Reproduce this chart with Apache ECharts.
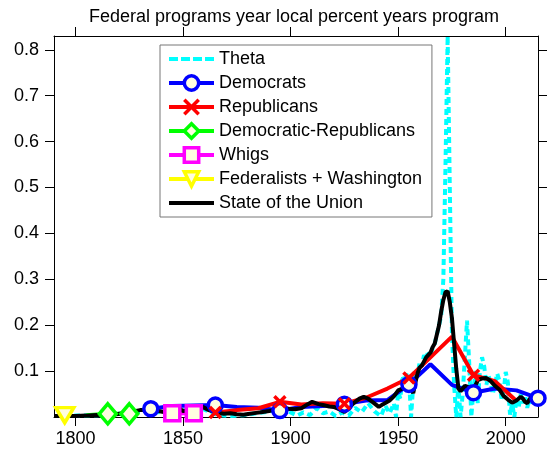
<!DOCTYPE html>
<html>
<head>
<meta charset="utf-8">
<script src="https://cdn.jsdelivr.net/npm/echarts@6/dist/echarts.min.js"></script>
<style>
  html, body { margin: 0; padding: 0; background: #fff; }
  #chart { width: 547px; height: 455px; }
</style>
</head>
<body>
<div id="chart"></div>
<script>
// ---- data ----
var xTicks = [1800, 1850, 1900, 1950, 2000];
var yTicks = [0.1, 0.2, 0.3, 0.4, 0.5, 0.6, 0.7, 0.8];

var thetaYears = [1790, 1800, 1810, 1820, 1830, 1840, 1847, 1852, 1858, 1862, 1866, 1872, 1878, 1884, 1890, 1896,
    1900, 1903, 1906, 1909, 1912, 1915, 1918, 1921, 1924, 1927, 1930, 1933, 1936, 1939, 1942, 1944, 1946, 1948,
    1949, 1950, 1951, 1952, 1953, 1954, 1955, 1956, 1957, 1958, 1959, 1960, 1961, 1962, 1963, 1964, 1965, 1966,
    1967, 1968, 1969, 1970, 1971, 1972, 1973, 1974, 1975, 1976, 1977, 1978, 1979, 1980, 1981, 1982, 1983, 1984,
    1985, 1986, 1987, 1988, 1989, 1990, 1991, 1992, 1993, 1994, 1995, 1996, 1997, 1998, 1999, 2000, 2001, 2002,
    2003, 2004, 2005, 2006, 2007, 2008, 2009, 2010, 2011, 2012, 2013, 2014];
var thetaValues = [0.002, 0.003, 0.004, 0.007, 0.013, 0.01, 0.02, 0.012, 0.02, 0.012, 0.004, 0.002, 0.004, 0.008, 0.012, 0.018,
    0.01, 0.003, 0.01, 0.004, 0.02, 0.008, 0.012, 0.002, 0.01, 0.003, 0.02, 0.01, 0.03, 0.012, 0.002, 0.025, 0.008, 0.03,
    0.0, 0.055, 0.04, 0.09, 0.075, 0.098, 0.085, 0.0, 0.07, 0.1, 0.09, 0.12, 0.11, 0.135, 0.125, 0.145, 0.13, 0.15,
    0.16, 0.18, 0.2, 0.22, 0.3, 0.55, 0.83, 0.5, 0.18, 0.07, 0.0, 0.07, 0.0, 0.05, 0.13, 0.21, 0.12, 0.0,
    0.06, 0.1, 0.03, 0.1, 0.13, 0.11, 0.07, 0.09, 0.075, 0.05, 0.07, 0.095, 0.08, 0.04, 0.055, 0.098, 0.075, 0.005,
    0.03, 0.0, 0.04, 0.02, 0.05, 0.03, 0.045, 0.02, 0.04, 0.028, 0.05, 0.035];

var demYears = [1835, 1845, 1855, 1865, 1875, 1885, 1895, 1905, 1915, 1925, 1935, 1945, 1955, 1965, 1975, 1985, 1995, 2005, 2015];
var demValues = [0.018, 0.024, 0.025, 0.026, 0.022, 0.02, 0.014, 0.022, 0.024, 0.028, 0.036, 0.037, 0.071, 0.115, 0.07, 0.053, 0.062, 0.058, 0.041];
var demMarkers = [1835, 1865, 1895, 1925, 1955, 1985, 2015];

var repYears = [1865, 1875, 1885, 1895, 1905, 1915, 1925, 1935, 1945, 1955, 1965, 1975, 1985, 1995, 2005];
var repValues = [0.01, 0.015, 0.019, 0.033, 0.027, 0.03, 0.029, 0.042, 0.062, 0.085, 0.13, 0.175, 0.091, 0.078, 0.035];
var repMarkers = [1865, 1895, 1925, 1955, 1985];

var drYears = [1805, 1815, 1825];
var drValues = [0.004, 0.007, 0.007];
var drMarkers = [1815, 1825];

var whigYears = [1845, 1855];
var whigValues = [0.008, 0.008];

var fedYears = [1795];
var fedValues = [0.004];

var sotuYears = [1790, 1795, 1800, 1805, 1808, 1812, 1815, 1819, 1823, 1827, 1830, 1834, 1837, 1841, 1844, 1847, 1850,
    1852, 1855, 1857, 1859, 1862, 1865, 1869, 1872, 1875, 1878, 1881, 1884, 1887, 1890, 1893, 1896, 1899, 1902, 1905,
    1908, 1910, 1913, 1915, 1918, 1920, 1922, 1925, 1927, 1929, 1932, 1934, 1936, 1938, 1941, 1943, 1946, 1948, 1950,
    1952, 1954, 1956, 1957, 1958, 1959, 1960, 1961, 1963, 1965, 1966, 1967, 1968, 1969, 1970, 1971, 1972, 1973, 1974,
    1975, 1976, 1977, 1978, 1979, 1980, 1981, 1982, 1983, 1984, 1985, 1986, 1987, 1989, 1991, 1993, 1995, 1997, 1999,
    2001, 2003, 2005, 2007, 2008, 2009, 2010, 2011, 2012, 2013, 2014];
var sotuValues = [0.002, 0.002, 0.002, 0.003, 0.004, 0.005, 0.006, 0.006, 0.009, 0.012, 0.015, 0.015, 0.014, 0.011, 0.014, 0.022, 0.013,
    0.014, 0.017, 0.015, 0.022, 0.015, 0.01, 0.007, 0.008, 0.006, 0.005, 0.007, 0.009, 0.011, 0.013, 0.016, 0.021, 0.018, 0.017, 0.019,
    0.028, 0.033, 0.028, 0.026, 0.023, 0.022, 0.018, 0.011, 0.02, 0.029, 0.04, 0.044, 0.04, 0.033, 0.022, 0.028, 0.036, 0.045, 0.058,
    0.062, 0.068, 0.062, 0.052, 0.075, 0.095, 0.108, 0.112, 0.13, 0.14, 0.152, 0.16, 0.18, 0.2, 0.23, 0.255, 0.272, 0.274, 0.25,
    0.215, 0.16, 0.105, 0.062, 0.056, 0.062, 0.068, 0.066, 0.064, 0.066, 0.048, 0.07, 0.08, 0.084, 0.085, 0.078, 0.068, 0.06, 0.046,
    0.038, 0.031, 0.036, 0.044, 0.04, 0.033, 0.03, 0.038, 0.044, 0.038, 0.036];

// ---- build ----
var FONT = '"Liberation Sans", Arial, sans-serif';
var CREAM = '#fffde0';
var LW = 4;

function pairs(years, values) {
    return years.map(function (y, i) { return [y, values[i]]; });
}
// only some points carry a marker
function marked(years, values, marks) {
    return years.map(function (y, i) {
        if (!marks || marks.indexOf(y) >= 0) return [y, values[i]];
        return { value: [y, values[i]], symbol: 'none' };
    });
}

function markerSeries(name, color, data, symbol, size, extra) {
    var s = {
        name: name,
        type: 'line',
        data: data,
        symbol: symbol,
        symbolSize: size,
        showSymbol: true,
        clip: false,
        lineStyle: { color: color, width: LW },
        itemStyle: { color: CREAM, borderColor: color, borderWidth: 3.5 },
        emphasis: { disabled: true }
    };
    for (var k in extra) s[k] = extra[k];
    return s;
}

var chart = echarts.init(document.getElementById('chart'), null, { renderer: 'canvas' });

var axisCommon = {
    type: 'value',
    axisLine: { show: true, onZero: false, lineStyle: { color: '#000', width: 1 } },
    splitLine: { show: false },
    axisTick: { show: true, inside: false, length: 9, lineStyle: { color: '#000' } }
};
function axis(extra) {
    var a = JSON.parse(JSON.stringify(axisCommon));
    for (var k in extra) {
        if (typeof extra[k] === 'object' && a[k]) { for (var j in extra[k]) a[k][j] = extra[k][j]; }
        else a[k] = extra[k];
    }
    return a;
}

var option = {
    animation: false,
    backgroundColor: '#fff',
    grid: { left: 54, right: 9, top: 36, bottom: 38, containLabel: false },
    graphic: [{
        type: 'text',
        x: 294,
        y: 17,
        style: {
            text: 'Federal programs year local percent years program',
            fontSize: 18,
            fontFamily: FONT,
            fill: '#000',
            align: 'center',
            verticalAlign: 'middle',
            textAlign: 'center',
            textVerticalAlign: 'middle'
        }
    }],
    xAxis: [
        axis({
            position: 'bottom', min: 1790, max: 2015,
            axisTick: { customValues: xTicks },
            axisLabel: {
                customValues: xTicks, fontSize: 18, fontFamily: FONT, color: '#000', margin: 13,
                formatter: function (v) { return String(v); }
            }
        }),
        axis({
            position: 'top', min: 1790, max: 2015,
            axisTick: { customValues: xTicks },
            axisLabel: { show: false }
        })
    ],
    yAxis: [
        axis({
            position: 'left', min: 0, max: 0.83,
            axisTick: { customValues: yTicks },
            axisLabel: {
                customValues: yTicks, fontSize: 18, fontFamily: FONT, color: '#000', margin: 15,
                formatter: function (v) { return v.toFixed(1); }
            }
        }),
        axis({
            position: 'right', min: 0, max: 0.83,
            axisTick: { customValues: yTicks },
            axisLabel: { show: false }
        })
    ],
    legend: {
        orient: 'vertical',
        left: 160,
        top: 45,
        padding: [5, 10, 5, 7],
        itemWidth: 45,
        itemHeight: 18,
        itemGap: 6,
        borderColor: '#777',
        borderWidth: 1,
        backgroundColor: '#fff',
        selectedMode: false,
        itemStyle: { borderWidth: 3.5 },
        lineStyle: { width: LW },
        textStyle: { fontSize: 18, fontFamily: FONT, color: '#000' },
        data: [
            { name: 'Theta', icon: 'path://M0,0h9v4h-9zM12,0h9v4h-9zM24,0h9v4h-9zM36,0h9v4h-9z', itemStyle: { borderWidth: 0 } },
            'Democrats',
            'Republicans',
            'Democratic-Republicans',
            'Whigs',
            'Federalists + Washington',
            { name: 'State of the Union', icon: 'path://M0,0h45v4h-45z', itemStyle: { borderWidth: 0 } }
        ]
    },
    series: [
        {
            name: 'Theta',
            type: 'line',
            data: pairs(thetaYears, thetaValues),
            symbol: 'none',
            lineStyle: { color: '#00ffff', width: LW, type: [6, 4] },
            itemStyle: { color: '#00ffff' },
            emphasis: { disabled: true }
        },
        markerSeries('Democrats', '#0000ff', marked(demYears, demValues, demMarkers), 'circle', 14),
        markerSeries('Republicans', '#ff0000', marked(repYears, repValues, repMarkers),
            'path://M0,0L10,10M10,0L0,10', 11, { itemStyle: { color: '#ff0000', borderColor: '#ff0000', borderWidth: 3.5 } }),
        markerSeries('Democratic-Republicans', '#00ff00', marked(drYears, drValues, drMarkers), 'diamond', [17, 20]),
        markerSeries('Whigs', '#ff00ff', marked(whigYears, whigValues), 'rect', 15),
        markerSeries('Federalists + Washington', '#ffff00', marked(fedYears, fedValues), 'triangle', [18, 15], { symbolRotate: 180 }),
        {
            name: 'State of the Union',
            type: 'line',
            data: pairs(sotuYears, sotuValues),
            symbol: 'none',
            lineStyle: { color: '#000', width: LW },
            itemStyle: { color: '#000' },
            emphasis: { disabled: true }
        }
    ]
};

chart.setOption(option);
</script>
</body>
</html>
